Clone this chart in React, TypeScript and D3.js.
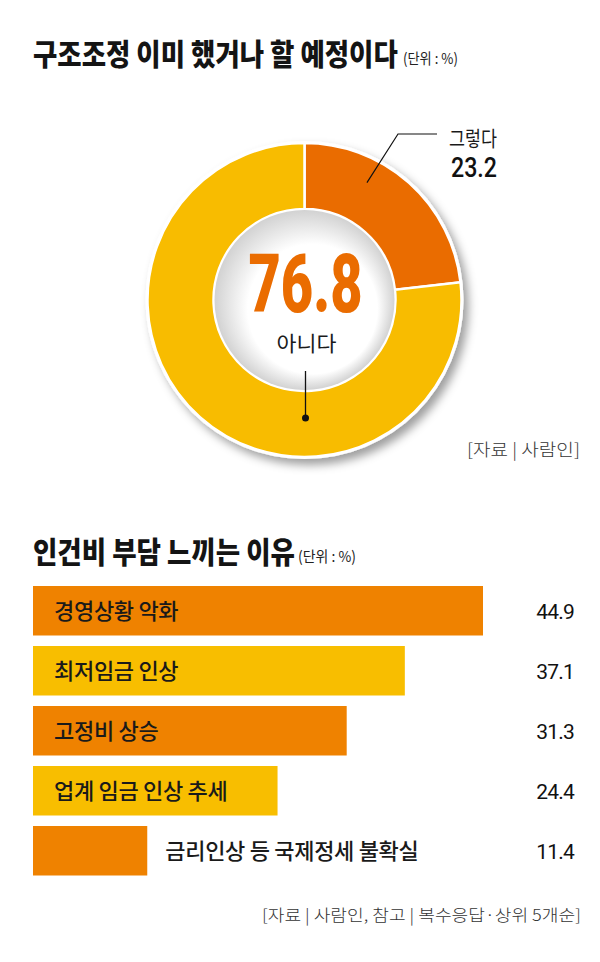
import React, { useLayoutEffect, useRef, useState } from 'react';
import * as d3 from 'd3';

const pieLabels = ['그렇다', '아니다'];
const pieValues = [23.2, 76.8];
const barCategories = ['경영상황 악화', '최저임금 인상', '고정비 상승', '업계 임금 인상 추세', '금리인상 등 국제정세 불확실'];
const barValues = [44.9, 37.1, 31.3, 24.4, 11.4];
const title1 = '구조조정 이미 했거나 할 예정이다';
const title2 = '인건비 부담 느끼는 이유';
const unitText = '(단위 : %)';
const source1 = '[자료 | 사람인]';
const source2 = '[자료 | 사람인, 참고 | 복수응답·상위 5개순]';

const KR = '"Noto Sans CJK KR", "Noto Sans", sans-serif';
const NUM = 'Roboto, "Liberation Sans", Arial, sans-serif';
const PIE_COLORS = ['#EA6C00', '#F8BC00'];
const BAR_COLORS = ['#EF8200', '#F8BE00'];

type FitProps = {
  x: number; y: number; width: number; anchor?: 'start' | 'middle' | 'end';
  children: React.ReactNode; [k: string]: any;
};

function FitText({ x, y, width, anchor = 'start', children, ...rest }: FitProps) {
  const ref = useRef<SVGTextElement>(null);
  const [sx, setSx] = useState(1);
  useLayoutEffect(() => {
    if (ref.current) {
      const L = ref.current.getComputedTextLength();
      if (L > 0) setSx(width / L);
    }
  }, [width, children]);
  return (
    <text ref={ref} transform={`translate(${x},${y}) scale(${sx},1)`} textAnchor={anchor} {...rest}>
      {children}
    </text>
  );
}

export default function App() {
  const cx = 304.5, cy = 300, rOut = 157, rIn = 91;
  const pie = d3.pie<number>().sort(null).startAngle(0).endAngle(2 * Math.PI);
  const arcs = pie(pieValues);
  const arcGen = d3.arc<d3.PieArcDatum<number>>().innerRadius(rIn).outerRadius(rOut);

  const x = d3.scaleLinear().domain([0, 44.9]).range([33, 483]);
  const y = d3.scaleBand<string>().domain(barCategories).range([586, 875.5]).paddingInner(0.175).paddingOuter(0);

  const polar = (angDeg: number, r: number) => {
    const a = (angDeg * Math.PI) / 180;
    return [cx + r * Math.sin(a), cy - r * Math.cos(a)];
  };
  const [ax, ay] = polar(28, 133);

  return (
    <svg width={600} height={962} style={{ position: 'absolute', left: 0, top: 0, background: '#fff' }}>
      <defs>
        <filter id="ds" x="-20%" y="-20%" width="150%" height="150%">
          <feDropShadow dx="5" dy="6" stdDeviation="5" floodColor="#000" floodOpacity="0.38" />
        </filter>
        <radialGradient id="hole" cx="0.5" cy="0.5" r="0.5" fx="0.66" fy="0.68">
          <stop offset="0" stopColor="#ffffff" />
          <stop offset="0.72" stopColor="#ffffff" />
          <stop offset="1" stopColor="#d2d2d2" />
        </radialGradient>
      </defs>
      <rect width={600} height={962} fill="#fff" />

      {/* Title 1 */}
      <FitText x={33} y={65} width={365} fontFamily={KR} fontWeight={800} fontSize={30} fill="#141414">{title1}</FitText>
      <FitText x={403} y={64} width={55} fontFamily={KR} fontSize={15} fill="#222">{unitText}</FitText>

      {/* Donut */}
      <circle cx={cx} cy={cy} r={rOut + 2} fill="#fff" filter="url(#ds)" />
      <g transform={`translate(${cx},${cy})`}>
        {arcs.map((a, i) => (
          <path key={pieLabels[i]} d={arcGen(a) || ''} fill={PIE_COLORS[i]} stroke="#fff" strokeWidth={2.5} />
        ))}
        <circle r={rIn - 1} fill="url(#hole)" />
      </g>
      <FitText x={cx + 1} y={312} width={114} anchor="middle" fontFamily={NUM} fontWeight={900} fontSize={82}
        fill="#EA6C00">{pieValues[1]}</FitText>
      <FitText x={cx + 2} y={351} width={60} anchor="middle" fontFamily={KR} fontSize={21} fill="#1a1a1a">{pieLabels[1]}</FitText>
      <line x1={cx + 1} x2={cx + 1} y1={371} y2={418} stroke="#111" strokeWidth={1.3} />
      <circle cx={cx + 1} cy={418} r={3.5} fill="#111" />

      <polyline points={`437,134 398,134 ${ax},${ay}`} fill="none" stroke="#111" strokeWidth={1.2} />
      <FitText x={449} y={146} width={48} fontFamily={KR} fontSize={21} fill="#1a1a1a">{pieLabels[0]}</FitText>
      <FitText x={451} y={177} width={46} fontFamily={NUM} fontWeight={500} fontSize={28} fill="#111">{pieValues[0]}</FitText>

      <FitText x={467} y={456} width={113} fontFamily={KR} fontWeight={300} fontSize={17} fill="#333">{source1}</FitText>

      {/* Title 2 */}
      <FitText x={33} y={563} width={262} fontFamily={KR} fontWeight={800} fontSize={30} fill="#141414">{title2}</FitText>
      <FitText x={298} y={562} width={58} fontFamily={KR} fontSize={15} fill="#222">{unitText}</FitText>

      {/* Bars */}
      {barCategories.map((c, i) => {
        const y0 = y(c) as number;
        const bw = y.bandwidth();
        const w = x(barValues[i]) - x(0);
        const inside = w > 200;
        const mid = y0 + bw / 2;
        return (
          <g key={c}>
            <rect x={x(0)} y={y0} width={w} height={bw} fill={BAR_COLORS[i % 2]} />
            <text x={inside ? x(0) + 21 : x(barValues[i]) + 18} y={mid + 8} fontFamily={KR} fontWeight={500}
              fontSize={22} fill="#1a1a1a" letterSpacing={-0.3}>{c}</text>
            <text x={574} y={mid + 8} textAnchor="end" fontFamily={NUM} fontWeight={400} fontSize={21}
              fill="#111" letterSpacing={-0.8}>{barValues[i].toFixed(1)}</text>
          </g>
        );
      })}

      <FitText x={262} y={921} width={319} fontFamily={KR} fontWeight={300} fontSize={16} fill="#333">{source2}</FitText>
    </svg>
  );
}
